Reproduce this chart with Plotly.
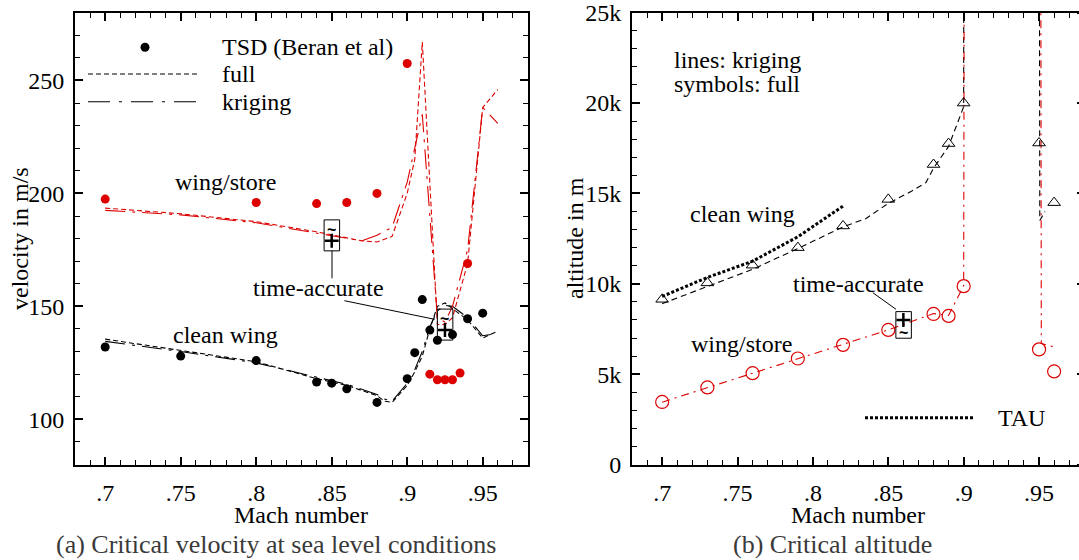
import plotly.graph_objects as go

# ---------------- data: (a) critical velocity at sea level ----------------
tsd_clean_mach = [0.70, 0.75, 0.80, 0.84, 0.85, 0.86, 0.88, 0.90, 0.905, 0.91, 0.915, 0.92, 0.93, 0.94, 0.95]
tsd_clean_vel = [132, 128, 126, 116.5, 116, 113.5, 107.5, 118, 129.5, 153, 139.5, 135, 137.5, 144.5, 147]

tsd_ws_mach = [0.70, 0.80, 0.84, 0.86, 0.88, 0.90, 0.915, 0.92, 0.925, 0.93, 0.935, 0.94]
tsd_ws_vel = [197.5, 196, 195.5, 196, 200, 257.5, 120, 117.5, 117.5, 117.5, 120.5, 169]

clean_mach = [0.70, 0.75, 0.80, 0.84, 0.85, 0.86, 0.88, 0.885, 0.89, 0.90, 0.905, 0.91,
              0.915, 0.92, 0.925, 0.93, 0.94, 0.95, 0.96]
clean_full_vel = [135.5, 130.5, 125.5, 118, 116.5, 115, 110.5, 108, 107.5, 115, 121, 128,
                  140, 150, 151.5, 149, 144, 136, 139]
clean_krig_vel = [134.5, 130, 125, 118.5, 117, 115.5, 111, 109, 108, 116, 122, 130,
                  141, 148, 150.5, 150, 145, 137, 138]

ws_mach = [0.70, 0.75, 0.80, 0.84, 0.87, 0.88, 0.89, 0.90, 0.905, 0.91, 0.92, 0.925, 0.93, 0.94, 0.95, 0.96]
ws_full_vel = [193.5, 191, 187.5, 183, 179, 178.5, 181, 200, 215, 267, 142, 142, 145, 169, 238, 246]
ws_krig_vel = [192.5, 190.5, 187, 182.5, 179, 181.5, 185, 205, 220, 235, 145, 143, 150, 175, 238, 231]

ta_vel_mach = [0.85, 0.925]
ta_vel = [179, 139.5]

# ---------------- data: (b) critical altitude ----------------
full_mach = [0.70, 0.73, 0.76, 0.79, 0.82, 0.85, 0.88, 0.89, 0.90, 0.95, 0.96]
full_clean_alt = [9140, 10050, 11030, 12000, 13200, 14670, 16600, 17760, 20000, 17790, 14490]
full_ws_alt = [3460, 4265, 5055, 5865, 6620, 7445, 8330, 8220, 9870, 6370, 5150]

krig_clean_mach = [0.70, 0.73, 0.76, 0.79, 0.82, 0.835, 0.85, 0.865, 0.875, 0.88, 0.89, 0.90, 0.9003,
                   None, 0.9497, 0.9505, 0.954]
krig_clean_alt = [8900, 9850, 10800, 11950, 13150, 13600, 14450, 15100, 15600, 16400, 17600, 19800, 60000,
                  None, 60000, 13500, 14000]

krig_ws_mach = [0.70, 0.73, 0.76, 0.79, 0.82, 0.85, 0.88, 0.89, 0.90, 0.901,
                None, 0.9507, 0.9515, 0.96]
krig_ws_alt = [3450, 4250, 5050, 5850, 6650, 7450, 8350, 8250, 9900, 60000,
               None, 60000, 6700, 6500]

tau_mach = [0.70, 0.73, 0.76, 0.79, 0.82]
tau_alt = [9300, 10350, 11250, 12600, 14300]

ta_alt_mach = [0.86]
ta_alt = [8000]

# ---------------- tick labels ----------------
mach_ticks = [0.70, 0.75, 0.80, 0.85, 0.90, 0.95]
mach_labels = [".7", ".75", ".8", ".85", ".9", ".95"]
vel_ticks = [100, 150, 200, 250]
vel_labels = ["100", "150", "200", "250"]
alt_ticks = [0, 5000, 10000, 15000, 20000, 25000]
alt_labels = ["0", "5k", "10k", "15k", "20k", "25k"]

# ---------------- styling ----------------
W, H = 1079, 560
RED = "#dd0000"
SERIF = "Liberation Serif, Times New Roman, Times, serif"


def px(x):
    return x / W


def py(y):
    return 1 - y / H


fig = go.Figure()

# (a) lines
fig.add_trace(go.Scatter(x=clean_mach, y=clean_full_vel, mode="lines",
                         line=dict(color="black", width=1.1, dash="5px,3px"), xaxis="x", yaxis="y"))
fig.add_trace(go.Scatter(x=clean_mach, y=clean_krig_vel, mode="lines",
                         line=dict(color="black", width=1.1, dash="20px,7px,3px,7px"), xaxis="x", yaxis="y"))
fig.add_trace(go.Scatter(x=ws_mach, y=ws_full_vel, mode="lines",
                         line=dict(color=RED, width=1.1, dash="5px,3px"), xaxis="x", yaxis="y"))
fig.add_trace(go.Scatter(x=ws_mach, y=ws_krig_vel, mode="lines",
                         line=dict(color=RED, width=1.1, dash="20px,7px,3px,7px"), xaxis="x", yaxis="y"))
# (a) TSD points
fig.add_trace(go.Scatter(x=tsd_clean_mach, y=tsd_clean_vel, mode="markers",
                         marker=dict(color="black", size=9), xaxis="x", yaxis="y"))
fig.add_trace(go.Scatter(x=tsd_ws_mach, y=tsd_ws_vel, mode="markers",
                         marker=dict(color=RED, size=9), xaxis="x", yaxis="y"))
# (a) time-accurate results
fig.add_trace(go.Scatter(x=ta_vel_mach, y=ta_vel, mode="markers",
                         marker=dict(symbol="cross-thin", size=10, line=dict(color="black", width=2.5)),
                         xaxis="x", yaxis="y"))

# (b) lines
fig.add_trace(go.Scatter(x=krig_clean_mach, y=krig_clean_alt, mode="lines", connectgaps=False,
                         line=dict(color="black", width=1.1, dash="6px,4px"), xaxis="x2", yaxis="y2"))
fig.add_trace(go.Scatter(x=krig_ws_mach, y=krig_ws_alt, mode="lines", connectgaps=False,
                         line=dict(color=RED, width=1.1, dash="8px,5px,2px,5px"), xaxis="x2", yaxis="y2"))
fig.add_trace(go.Scatter(x=tau_mach, y=tau_alt, mode="lines",
                         line=dict(color="black", width=3, dash="3px,2px"), xaxis="x2", yaxis="y2"))
# (b) full-order points
fig.add_trace(go.Scatter(x=full_mach, y=full_clean_alt, mode="markers",
                         marker=dict(symbol="triangle-up-open", size=11, color="black", line=dict(width=1)),
                         xaxis="x2", yaxis="y2"))
fig.add_trace(go.Scatter(x=full_mach, y=full_ws_alt, mode="markers",
                         marker=dict(symbol="circle-open", size=13, color=RED, line=dict(width=1.2)),
                         xaxis="x2", yaxis="y2"))
fig.add_trace(go.Scatter(x=ta_alt_mach, y=ta_alt, mode="markers",
                         marker=dict(symbol="cross-thin", size=10, line=dict(color="black", width=2.5)),
                         xaxis="x2", yaxis="y2"))
# carrier for the right-hand tick axis
fig.add_trace(go.Scatter(x=[], y=[], mode="lines", xaxis="x2", yaxis="y3"))

tickfont = dict(family=SERIF, size=24, color="black")
axis_common = dict(showline=True, linewidth=2, linecolor="black", ticks="inside", ticklen=8,
                   tickwidth=1.5, tickcolor="black", showgrid=False, zeroline=False,
                   tickfont=tickfont, automargin=False)

y_dom = [py(464.5), py(12.7)]

fig.update_layout(
    template="none",
    width=W, height=H, autosize=False,
    margin=dict(l=0, r=0, t=0, b=0, pad=0),
    paper_bgcolor="white", plot_bgcolor="white",
    showlegend=False,
    font=dict(family=SERIF, size=24, color="black"),
    xaxis=dict(domain=[px(75), px(528)], range=[0.68, 0.98], anchor="y", mirror="ticks",
               tickmode="array", tickvals=mach_ticks, ticktext=mach_labels, ticklabelstandoff=6,
               minor=dict(ticks="inside", ticklen=5, tickwidth=1.2, tickcolor="black",
                          tickmode="linear", tick0=0.70, dtick=0.01),
               **axis_common),
    yaxis=dict(domain=y_dom, range=[80, 280], anchor="x", mirror="ticks",
               tickmode="array", tickvals=vel_ticks, ticktext=vel_labels, ticklabelstandoff=4,
               minor=dict(ticks="inside", ticklen=5, tickwidth=1.2, tickcolor="black",
                          tickmode="linear", tick0=100, dtick=10),
               **axis_common),
    xaxis2=dict(domain=[px(632), 1.0], range=[0.68, 0.9765], anchor="y2", mirror="ticks",
                tickmode="array", tickvals=mach_ticks, ticktext=mach_labels, ticklabelstandoff=6,
                minor=dict(ticks="inside", ticklen=5, tickwidth=1.2, tickcolor="black",
                           tickmode="linear", tick0=0.70, dtick=0.01),
                **axis_common),
    yaxis2=dict(domain=y_dom, range=[0, 25000], anchor="x2", mirror=False,
                tickmode="array", tickvals=alt_ticks, ticktext=alt_labels, ticklabelstandoff=4,
                minor=dict(ticks="inside", ticklen=5, tickwidth=1.2, tickcolor="black",
                           tickmode="linear", tick0=0, dtick=1000),
                **axis_common),
    yaxis3=dict(overlaying="y2", side="right", anchor="free", position=px(1076),
                range=[0, 25000], showline=False, ticks="outside", ticklen=8, tickwidth=1.5,
                tickcolor="black", tickmode="array", tickvals=alt_ticks, showticklabels=False,
                showgrid=False, zeroline=False, automargin=False),
)

annotations = []


def label(x, y, text, xanchor="center", size=24, color="black", angle=0, family=SERIF):
    annotations.append(dict(x=px(x), y=py(y), xref="paper", yref="paper", text=text,
                            showarrow=False, xanchor=xanchor, yanchor="middle", textangle=angle,
                            font=dict(family=family, size=size, color=color)))


# (a) texts
label(220, 47, "TSD (Beran et al)", xanchor="left")
label(220, 74, "full", xanchor="left")
label(220, 102, "kriging", xanchor="left")
label(225.5, 182, "wing/store")
label(225.5, 335, "clean wing")
label(318.5, 288.5, "time-accurate")
label(301.5, 515, "Mach number")
label(20, 239, "velocity in m/s", angle=-90)
label(275.5, 544, "(a) Critical velocity at sea level conditions", size=26, color="#3a3a3a")

# (b) texts
label(672, 60, "lines: kriging", xanchor="left")
label(672, 84, "symbols: full", xanchor="left")
label(742, 213.5, "clean wing")
label(858, 283.5, "time-accurate")
label(741, 344, "wing/store")
label(1021, 418, "TAU")
label(858, 515, "Mach number")
label(575, 238, "altitude in m", angle=-90)
label(832.5, 544, "(b) Critical altitude", size=26, color="#3a3a3a")

# tilde marks inside the time-accurate boxes
for m, v in zip(ta_vel_mach, ta_vel):
    annotations.append(dict(x=m, y=v, xref="x", yref="y", text="<b>~</b>", showarrow=False,
                            yshift=11.5, font=dict(family="Liberation Sans", size=16, color="black")))
for m, a in zip(ta_alt_mach, ta_alt):
    annotations.append(dict(x=m, y=a, xref="x2", yref="y2", text="<b>~</b>", showarrow=False,
                            yshift=-12.5, font=dict(family="Liberation Sans", size=16, color="black")))

shapes = []
# boxes around the time-accurate marks
for m, v in zip(ta_vel_mach, ta_vel):
    shapes.append(dict(type="rect", xref="x", yref="y", xsizemode="pixel", ysizemode="pixel",
                       xanchor=m, yanchor=v, x0=-7.6, x1=7.9, y0=-10, y1=21,
                       line=dict(color="black", width=1)))
for m, a in zip(ta_alt_mach, ta_alt):
    shapes.append(dict(type="rect", xref="x2", yref="y2", xsizemode="pixel", ysizemode="pixel",
                       xanchor=m, yanchor=a, x0=-7.5, x1=8, y0=-18.3, y1=8.3,
                       line=dict(color="black", width=1)))


# leader lines from the labels to the boxes
def seg(x0, y0, x1, y1):
    shapes.append(dict(type="line", xref="paper", yref="paper", x0=px(x0), y0=py(y0),
                       x1=px(x1), y1=py(y1), line=dict(color="black", width=1)))


seg(332, 250.5, 332, 278.3)
seg(344.4, 300.7, 434.6, 319.3)
seg(872.8, 292.7, 896, 309.3)

# legend keys
shapes.append(dict(type="circle", xref="paper", yref="paper", x0=px(140.5), x1=px(149.5),
                   y0=py(51.8), y1=py(42.8), fillcolor="black", line=dict(color="black", width=0)))
shapes.append(dict(type="line", xref="paper", yref="paper", x0=px(88), x1=px(197), y0=py(74), y1=py(74),
                   line=dict(color="black", width=1.1, dash="5px,3px")))
shapes.append(dict(type="line", xref="paper", yref="paper", x0=px(88), x1=px(197), y0=py(101.7), y1=py(101.7),
                   line=dict(color="black", width=1.1, dash="22px,9px,3px,9px")))
shapes.append(dict(type="line", xref="paper", yref="paper", x0=px(865), x1=px(974), y0=py(417.7), y1=py(417.7),
                   line=dict(color="black", width=3, dash="3px,2px")))

fig.update_layout(annotations=annotations, shapes=shapes)

fig.write_html("out.html")
